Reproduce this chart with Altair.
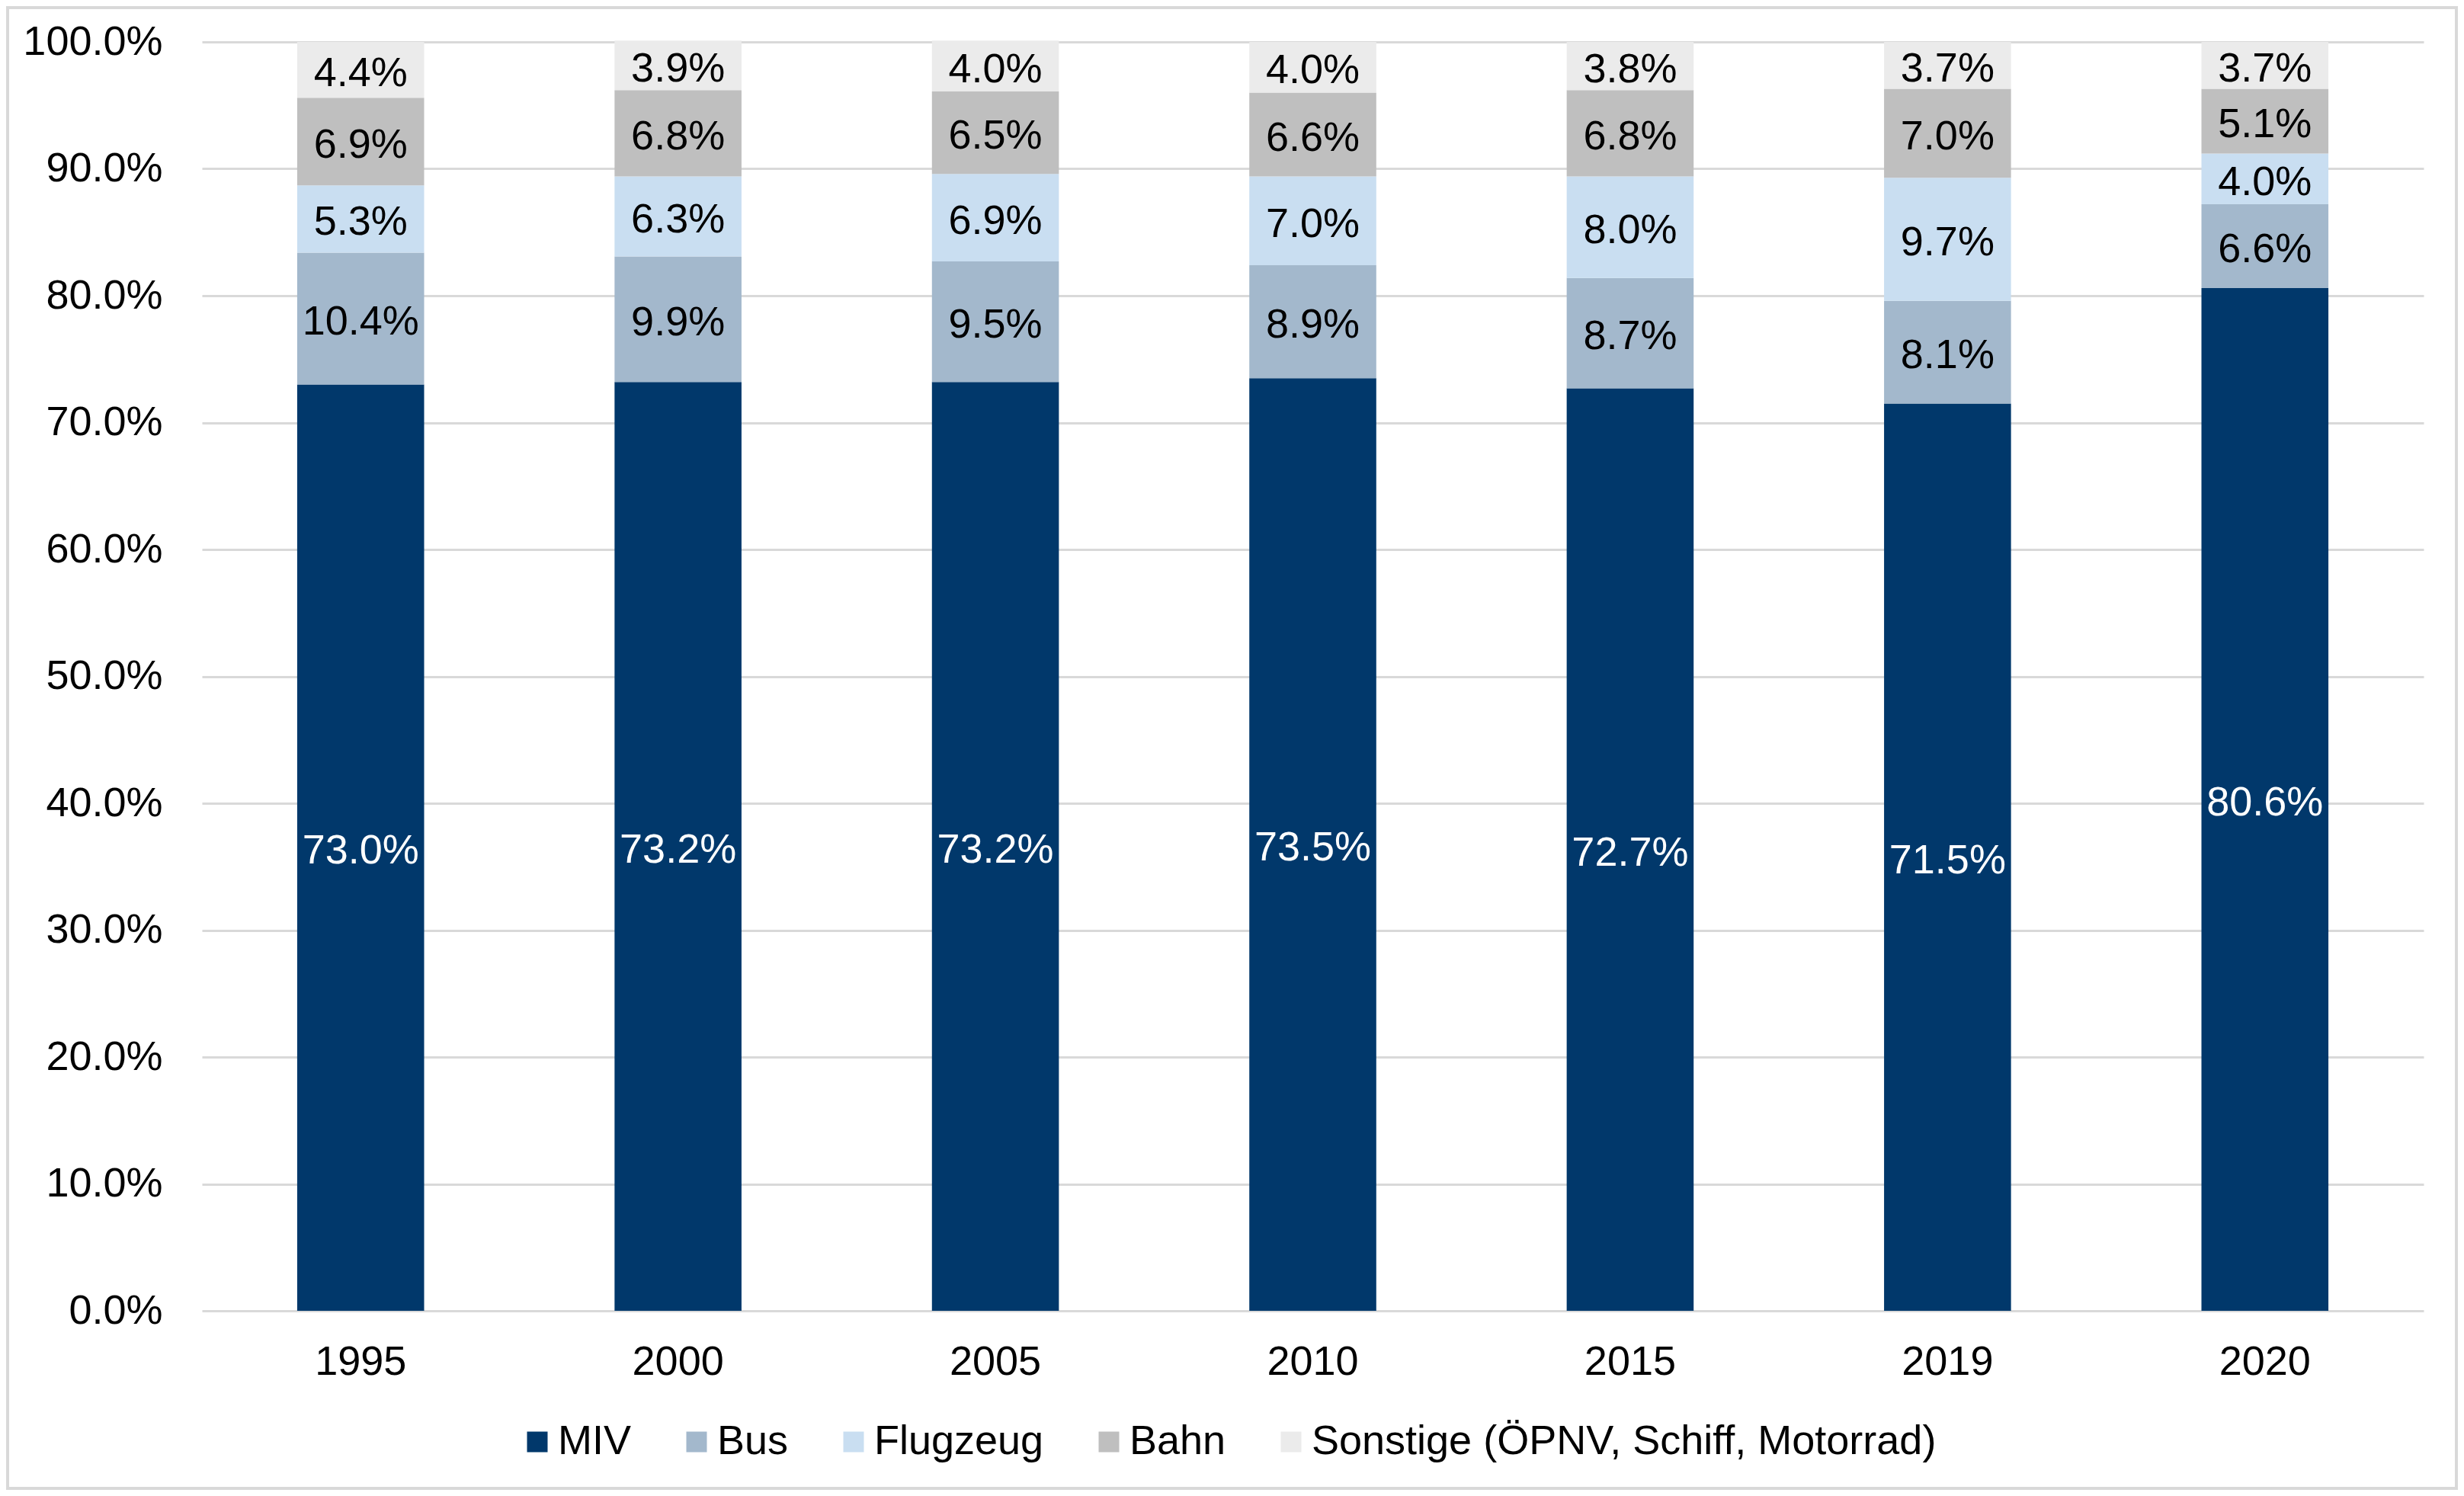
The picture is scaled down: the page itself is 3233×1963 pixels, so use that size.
import altair as alt
import pandas as pd

years = ["1995", "2000", "2005", "2010", "2015", "2019", "2020"]
series = ["MIV", "Bus", "Flugzeug", "Bahn", "Sonstige (ÖPNV, Schiff, Motorrad)"]
miv = [73.0, 73.2, 73.2, 73.5, 72.7, 71.5, 80.6]
bus = [10.4, 9.9, 9.5, 8.9, 8.7, 8.1, 6.6]
flugzeug = [5.3, 6.3, 6.9, 7.0, 8.0, 9.7, 4.0]
bahn = [6.9, 6.8, 6.5, 6.6, 6.8, 7.0, 5.1]
sonstige = [4.4, 3.9, 4.0, 4.0, 3.8, 3.7, 3.7]
colors = ["#01386B", "#A3B8CC", "#C9DEF1", "#BFBFBF", "#EBEBEB"]

rows = []
for idx, (name, vals) in enumerate(zip(series, [miv, bus, flugzeug, bahn, sonstige])):
    for y, v in zip(years, vals):
        rows.append({"year": y, "series": name, "idx": idx, "value": v / 100.0})
df = pd.DataFrame(rows)

FONT = "Liberation Sans"
FS = 54

base = alt.Chart(df).transform_stack(
    stack="value", groupby=["year"], as_=["v0", "v1"],
    sort=[alt.SortField("idx", order="ascending")]
).transform_calculate(mid="(datum.v0 + datum.v1) / 2")

xenc = alt.X("year:N", sort=years, title=None,
             scale=alt.Scale(paddingInner=0.6, paddingOuter=0.3),
             axis=alt.Axis(labelAngle=0, domain=False, ticks=False,
                           labelPadding=40, labelFontSize=FS, labelFont=FONT,
                           labelColor="#000000", labelLimit=0))
yscale = alt.Scale(domain=[0, 1], nice=False)

bars = base.mark_bar().encode(
    x=xenc,
    y=alt.Y("v0:Q", scale=yscale, title=None,
            axis=alt.Axis(format=".1%", values=[i / 10 for i in range(11)],
                          domain=False, ticks=False, labelPadding=52,
                          labelFontSize=FS, labelFont=FONT, labelColor="#000000",
                          labelLimit=0,
                          grid=True, gridColor="#D9D9D9", gridWidth=3)),
    y2="v1:Q",
    color=alt.Color("series:N", sort=series,
                    scale=alt.Scale(domain=series, range=colors),
                    legend=alt.Legend(title=None, orient="none", direction="horizontal",
                                      columns=5, legendX=413, legendY=1810,
                                      symbolType="square", symbolSize=729,
                                      symbolStrokeWidth=0, labelFontSize=FS,
                                      labelFont=FONT, labelColor="#000000",
                                      labelLimit=0,
                                      labelOffset=0, columnPadding=58)),
)

labels = base.mark_text(font=FONT, fontSize=FS, baseline="middle", align="center", dy=5).encode(
    x=alt.X("year:N", sort=years),
    y=alt.Y("mid:Q", scale=yscale),
    text=alt.Text("value:Q", format=".1%"),
    color=alt.condition(alt.datum.series == "MIV", alt.value("#FFFFFF"), alt.value("#000000")),
)

frame = alt.Chart(pd.DataFrame({"f": [0]})).mark_rect(
    fillOpacity=0, stroke="#D9D9D9", strokeWidth=4
).encode(
    x=alt.value(-255), x2=alt.value(2958), y=alt.value(-45), y2=alt.value(1898)
)

chart = alt.layer(bars, labels, frame).properties(
    width=2915, height=1665,
    autosize=alt.AutoSizeParams(type="none"),
    padding={"left": 257, "top": 47, "right": 45, "bottom": 235},
    background="#FFFFFF",
).configure_view(stroke=None)

chart.save("out.html", embed_options={"renderer": "svg", "actions": False})
